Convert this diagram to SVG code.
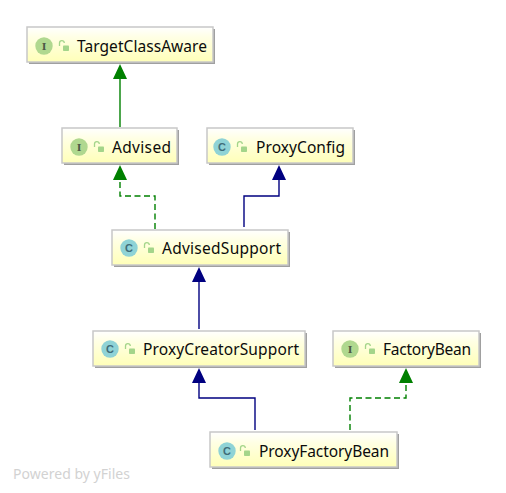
<svg xmlns="http://www.w3.org/2000/svg" width="506" height="493" viewBox="0 0 506 493">
<style>
text{font-family:"Noto Sans","Open Sans","Liberation Sans",sans-serif}
.box{fill:url(#g);stroke:#c8c8c8;stroke-width:1.5}
.sh{fill:#a0a0a0}
.lbl{font-size:15.5px;fill:#0c0c0c}
.ic{font-size:10px;font-weight:700;fill:#4d5a46;text-anchor:middle;font-family:"DejaVu Serif",serif}
.cc{font-size:11px;fill:#3f6d78;text-anchor:middle;font-family:"Liberation Sans",sans-serif;font-weight:700}
.ci{fill:#b0d88f}.cg{fill:#8fd3d6}
.lk{fill:#a4d58a}.ls{fill:none;stroke:#a4d58a;stroke-width:1.3}
.gl{fill:none;stroke:#008000;stroke-width:1.4}
.bl{fill:none;stroke:#000080;stroke-width:1.4}
.d{stroke-dasharray:6 3.5}
</style>
<defs>
<linearGradient id="g" x1="0" y1="0" x2="0" y2="1"><stop offset="0" stop-color="#ffffff"/><stop offset=".3" stop-color="#ffffe4"/><stop offset="1" stop-color="#ffffb8"/></linearGradient>
<g id="lock"><path class="ls" d="M-.5 0V-3a2.4 2.4 0 0 1 4.8 0"/><rect class="lk" x="3" y="-.5" width="6" height="5.5" rx=".8"/></g>
</defs>
<rect width="506" height="493" fill="#fff"/>
<g id="connectors">
<path class="gl" d="M120 127V77"/><polygon points="120,64 113,79 127,79" fill="#008000"/>
<path class="gl d" d="M155 229V196H120V178"/><polygon points="120,165 113,180 127,180" fill="#008000"/>
<path class="bl" d="M244 227V196H279V178"/><polygon points="279,165 272,180 286,180" fill="#000080"/>
<path class="bl" d="M199 329V280"/><polygon points="199,267 192,282 206,282" fill="#000080"/>
<path class="bl" d="M255 430V398H199V381"/><polygon points="199,368 192,383 206,383" fill="#000080"/>
<path class="gl d" d="M350 430V398H406V381"/><polygon points="406,368 399,383 413,383" fill="#008000"/>
</g>
<g id="n1"><rect class="sh" x="29" y="29" width="186" height="35"/><rect class="box" x="27" y="27" width="186" height="35"/><circle class="ci" cx="44" cy="46" r="8.7"/><text class="ic" x="44" y="50">I</text><use href="#lock" x="60" y="46"/><text class="lbl" x="77" y="52" textLength="130" lengthAdjust="spacing">TargetClassAware</text></g>
<g id="n2"><rect class="sh" x="64" y="130" width="115" height="35"/><rect class="box" x="62" y="128" width="115" height="35"/><circle class="ci" cx="79" cy="147" r="8.7"/><text class="ic" x="79" y="151">I</text><use href="#lock" x="95" y="147"/><text class="lbl" x="112" y="153" textLength="59" lengthAdjust="spacing">Advised</text></g>
<g id="n3"><rect class="sh" x="209" y="130" width="146" height="35"/><rect class="box" x="207" y="128" width="146" height="35"/><circle class="cg" cx="222" cy="147" r="8.7"/><text class="cc" x="222" y="151">C</text><use href="#lock" x="238" y="147"/><text class="lbl" x="256" y="153" textLength="89" lengthAdjust="spacing">ProxyConfig</text></g>
<g id="n4"><rect class="sh" x="114" y="232" width="176" height="35"/><rect class="box" x="112" y="230" width="176" height="35"/><circle class="cg" cx="129" cy="248" r="8.7"/><text class="cc" x="129" y="252">C</text><use href="#lock" x="145" y="248"/><text class="lbl" x="162" y="254" textLength="119" lengthAdjust="spacing">AdvisedSupport</text></g>
<g id="n5"><rect class="sh" x="95" y="333" width="212" height="35"/><rect class="box" x="93" y="331" width="212" height="35"/><circle class="cg" cx="110" cy="349" r="8.7"/><text class="cc" x="110" y="353">C</text><use href="#lock" x="126" y="349"/><text class="lbl" x="143" y="355" textLength="156" lengthAdjust="spacing">ProxyCreatorSupport</text></g>
<g id="n6"><rect class="sh" x="335" y="333" width="146" height="35"/><rect class="box" x="333" y="331" width="146" height="35"/><circle class="ci" cx="350" cy="349" r="8.7"/><text class="ic" x="350" y="353">I</text><use href="#lock" x="366" y="349"/><text class="lbl" x="383" y="355" textLength="88" lengthAdjust="spacing">FactoryBean</text></g>
<g id="n7"><rect class="sh" x="212" y="434" width="187" height="35"/><rect class="box" x="210" y="432" width="187" height="35"/><circle class="cg" cx="227" cy="451" r="8.7"/><text class="cc" x="227" y="455">C</text><use href="#lock" x="241" y="451"/><text class="lbl" x="259" y="457" textLength="130" lengthAdjust="spacing">ProxyFactoryBean</text></g>
<text x="13" y="479" font-size="14" fill="#d2d2d2" textLength="117">Powered by yFiles</text>
</svg>
